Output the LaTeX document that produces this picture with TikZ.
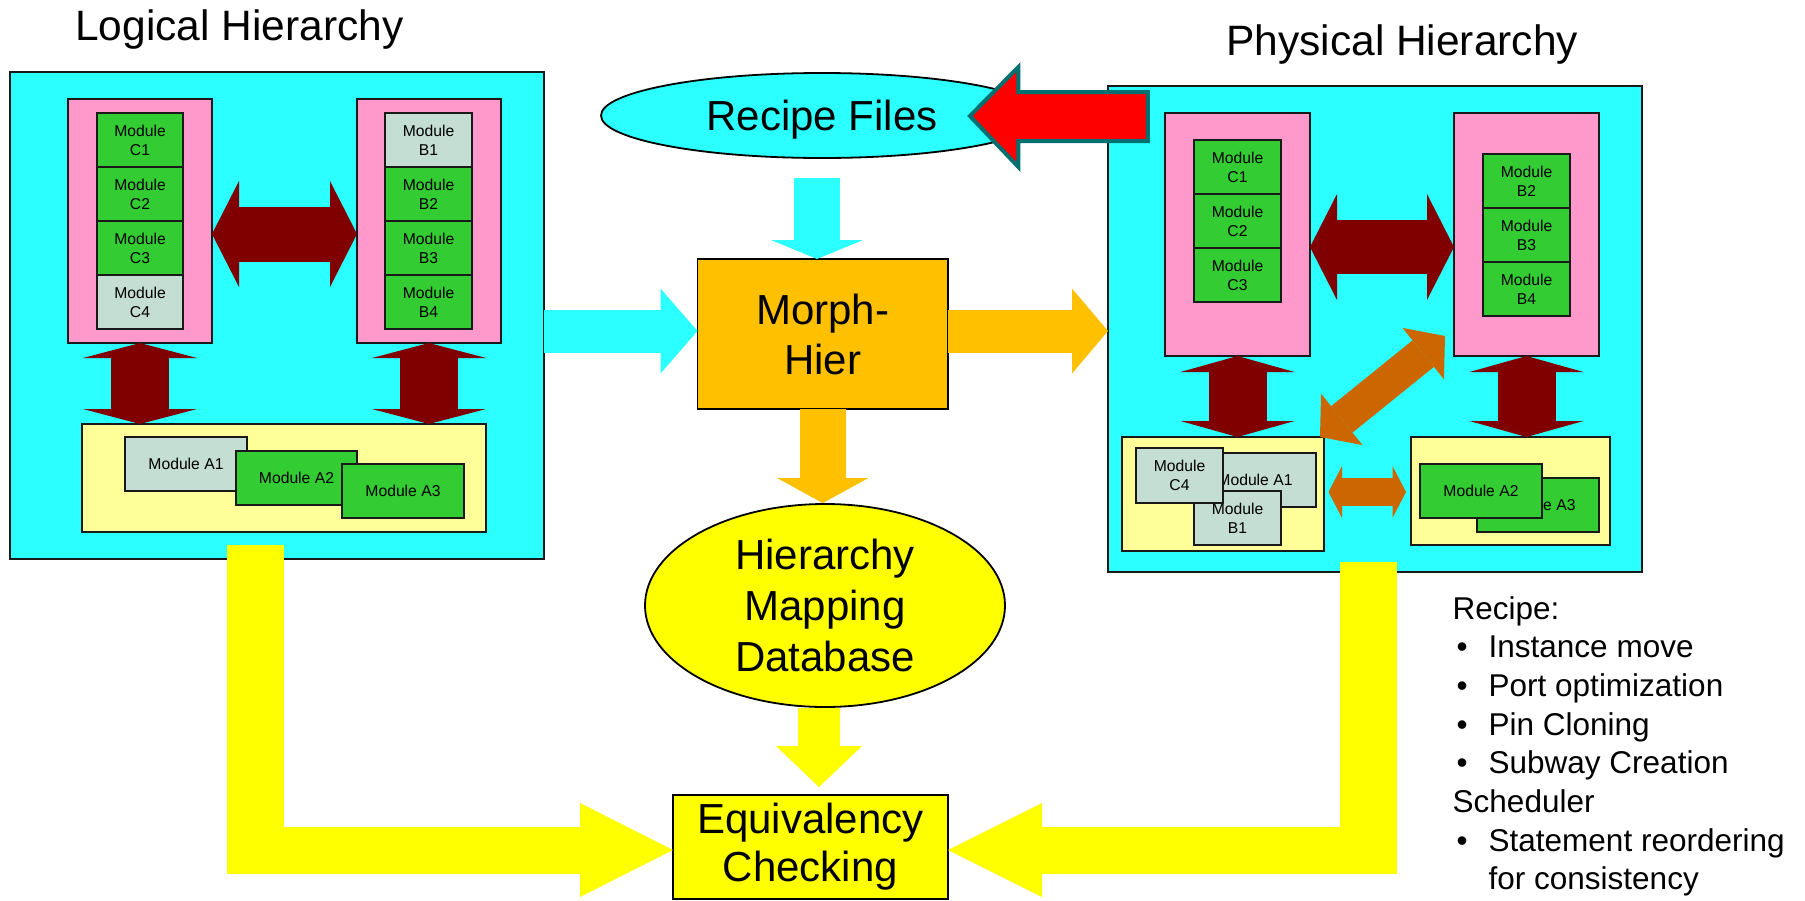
\documentclass[tikz,border=0pt]{standalone}
\usepackage{fontspec}
\setmainfont{Liberation Sans}
\usetikzlibrary{arrows.meta,shapes.geometric,calc}
\definecolor{cy}{RGB}{44,255,255}
\definecolor{pk}{RGB}{255,153,204}
\definecolor{gr}{RGB}{51,204,51}
\definecolor{gy}{RGB}{196,222,212}
\definecolor{ly}{RGB}{255,255,153}
\definecolor{dr}{RGB}{128,0,0}
\definecolor{og}{RGB}{255,192,0}
\definecolor{br}{RGB}{204,102,0}
\definecolor{yl}{RGB}{255,255,0}
\definecolor{tl}{RGB}{0,112,112}
\definecolor{bd}{RGB}{25,25,25}
\begin{document}
\begin{tikzpicture}[x=1pt,y=-1pt,
  box/.style={draw=bd, line width=1.6pt, inner sep=0pt, outer sep=0pt, anchor=north west},
  cell/.style={box, align=center, font=\fontsize{15.7}{19}\selectfont},
  barrow/.style n args={4}{draw=#1, line width=#2, -{Triangle[line width=0pt, width=#3, length=#4]}},
  bdarrow/.style n args={4}{draw=#1, line width=#2, {Triangle[line width=0pt, width=#3, length=#4]}-{Triangle[line width=0pt, width=#3, length=#4]}},
  title/.style={anchor=base west, inner sep=0pt, font=\fontsize{42.5}{50}\selectfont}
]
\useasboundingbox (0,0) rectangle (1805,900);

% titles
\node[title] (lt) at (75,40) {Logical Hierarchy};
\node[title] (pt) at (1226,55) {Physical Hierarchy};

% ---------- logical hierarchy ----------
\node[box, fill=cy, minimum width=534, minimum height=487] (lbox) at (10,72) {};
\node[box, fill=pk, minimum width=144, minimum height=244] (lpc) at (68,99) {};
\node[box, fill=pk, minimum width=144, minimum height=244] (lpb) at (357,99) {};
\node[cell, fill=gr, minimum width=86, minimum height=54] (lc1) at (97,113) {Module\\C1};
\node[cell, fill=gr, minimum width=86, minimum height=54] (lc2) at (97,167) {Module\\C2};
\node[cell, fill=gr, minimum width=86, minimum height=54] (lc3) at (97,221) {Module\\C3};
\node[cell, fill=gy, minimum width=86, minimum height=54] (lc4) at (97,275) {Module\\C4};
\node[cell, fill=gy, minimum width=87, minimum height=54] (lb1) at (385,113) {Module\\B1};
\node[cell, fill=gr, minimum width=87, minimum height=54] (lb2) at (385,167) {Module\\B2};
\node[cell, fill=gr, minimum width=87, minimum height=54] (lb3) at (385,221) {Module\\B3};
\node[cell, fill=gr, minimum width=87, minimum height=54] (lb4) at (385,275) {Module\\B4};
\node[box, fill=ly, minimum width=404, minimum height=108] (lyel) at (82,424) {};
\node[cell, fill=gy, minimum width=122, minimum height=54] (la1) at (125,437) {Module A1};
\node[cell, fill=gr, minimum width=121, minimum height=54] (la2) at (236,451) {Module A2};
\node[cell, fill=gr, minimum width=122, minimum height=54] (la3) at (342,464) {Module A3};
\draw[bdarrow={dr}{55pt}{106pt}{27pt}] ([yshift=-13]lpc.east) -- ([yshift=-13]lpb.west);
\draw[bdarrow={dr}{58pt}{114pt}{15pt}] (lpc.south) -- (lpc.south |- lyel.north);
\draw[bdarrow={dr}{58pt}{114pt}{15pt}] (lpb.south) -- (lpb.south |- lyel.north);

% ---------- physical hierarchy ----------
\node[box, fill=cy, minimum width=534, minimum height=486] (pbox) at (1108,86) {};
\node[box, fill=pk, minimum width=145, minimum height=243] (ppc) at (1165,113) {};
\node[box, fill=pk, minimum width=145, minimum height=243] (ppb) at (1454,113) {};
\node[cell, fill=gr, minimum width=87, minimum height=54] (pc1) at (1194,140) {Module\\C1};
\node[cell, fill=gr, minimum width=87, minimum height=54] (pc2) at (1194,194) {Module\\C2};
\node[cell, fill=gr, minimum width=87, minimum height=54] (pc3) at (1194,248) {Module\\C3};
\node[cell, fill=gr, minimum width=87, minimum height=54] (pb2) at (1483,154) {Module\\B2};
\node[cell, fill=gr, minimum width=87, minimum height=54] (pb3) at (1483,208) {Module\\B3};
\node[cell, fill=gr, minimum width=87, minimum height=54] (pb4) at (1483,262) {Module\\B4};
\node[box, fill=ly, minimum width=202, minimum height=114] (pyl) at (1122,437) {};
\node[box, fill=ly, minimum width=199, minimum height=108] (pyr) at (1411,437) {};
\node[cell, fill=gy, minimum width=122, minimum height=54] (pa1) at (1194,453) {Module A1};
\node[cell, fill=gy, minimum width=87, minimum height=54] (pb1) at (1194,491) {Module\\B1};
\node[cell, fill=gy, minimum width=87, minimum height=55] (pc4) at (1136,448) {Module\\C4};
\node[cell, fill=gr, minimum width=122, minimum height=54] (pa3) at (1477,478) {Module A3};
\node[cell, fill=gr, minimum width=122, minimum height=54] (pa2) at (1420,464) {Module A2};
\draw[bdarrow={dr}{54pt}{106pt}{27pt}] ([yshift=-12.5]ppc.east) -- ([yshift=-12.5]ppb.west);
\draw[bdarrow={dr}{58pt}{114pt}{16pt}] (ppc.south) -- (ppc.south |- pyl.north);
\draw[bdarrow={dr}{58pt}{114pt}{16pt}] (ppb.south) -- (ppb.south |- pyr.north);
\draw[bdarrow={br}{34pt}{66pt}{28pt}] ([xshift=-4]pyl.north east) -- ([xshift=-9,yshift=20]ppb.south west);
\draw[bdarrow={br}{28pt}{52pt}{13.5pt}] ($(pyl.east)+(4.5,-2)$) -- ($(pyr.west)+(-5,1)$);

% ---------- centre ----------
\node[ellipse, draw=black, line width=1.8pt, fill=cy, minimum width=442, minimum height=85, inner sep=0pt, text depth=0pt, font=\fontsize{42}{50}\selectfont] (rf) at (822,115.5) {Recipe Files};
\node[box, draw=black, fill=og, minimum width=250.5, minimum height=150, align=center, font=\fontsize{42}{50}\selectfont] (mh) at (697.5,259) {Morph-\\Hier};
\node[ellipse, draw=black, line width=1.8pt, fill=yl, minimum width=360, minimum height=203, inner sep=0pt, align=center, font=\fontsize{42}{51}\selectfont] (hmd) at (825,605.5) {Hierarchy\\Mapping\\Database};
\node[box, draw=black, fill=yl, minimum width=275, minimum height=104, align=center, font=\fontsize{42}{48}\selectfont] (eq) at (673,795) {Equivalency\\Checking};

% red arrow from physical hierarchy to recipe files
\coordinate (rt) at ($(rf.east)+(-74,0.5)$);
\draw[tl, line width=4pt, fill=red, line join=miter] (rt) -- ++(48.5,-49) -- ++(0,25) -- ++(129.5,0) -- ++(0,49) -- ++(-129.5,0) -- ++(0,26) -- cycle;

\draw[barrow={cy}{46pt}{92pt}{19pt}, shorten <=19pt] ([xshift=-5]rf.south) -- ([xshift=-5.75]mh.north);
\draw[barrow={cy}{43pt}{85pt}{37pt}] ($(lbox.east |- mh.west)+(0,-3)$) -- ($(mh.west)+(0,-3)$);
\draw[barrow={og}{43pt}{85pt}{36pt}] ($(mh.east)+(0,-3)$) -- ($(pbox.west |- mh.east)+(0,-3)$);
\draw[barrow={og}{45.5pt}{91pt}{25pt}] (mh.south) -- (mh.south |- hmd.north);
\coordinate (yd) at ($(hmd.south)+(-6,0)$);
\draw[barrow={yl}{42pt}{86pt}{41pt}, shorten >=8pt] (yd) -- (yd |- eq.north);

% yellow L arrows
\coordinate (lLt) at ($(lbox.south)+(-21.5,-14)$);
\coordinate (lLc) at ($(lLt |- eq.west)+(0,3)$);
\draw[yl, line width=57pt] (lLt) -- ($(lLc)+(0,23.5)$);
\draw[barrow={yl}{47pt}{94pt}{93pt}] ($(lLc)+(-28.5,0)$) -- ($(eq.west)+(0,3)$);
\coordinate (rLt) at ($(pbox.south)+(-6.5,-10)$);
\coordinate (rLc) at ($(rLt |- eq.east)+(0,3)$);
\draw[yl, line width=57pt] (rLt) -- ($(rLc)+(0,23.5)$);
\draw[barrow={yl}{47pt}{94pt}{94pt}] ($(rLc)+(28.5,0)$) -- ($(eq.east)+(0,3)$);

% recipe list
\node[anchor=base west, inner sep=0pt, font=\fontsize{31.5}{38.7}\selectfont] (rl) at (1452.5,619) {%
\begin{tabular}[t]{@{}l@{}l@{}}
\multicolumn{2}{@{}l}{Recipe:}\\
\makebox[36pt][l]{\hspace{4pt}•}&Instance move\\
\makebox[36pt][l]{\hspace{4pt}•}&Port optimization\\
\makebox[36pt][l]{\hspace{4pt}•}&Pin Cloning\\
\makebox[36pt][l]{\hspace{4pt}•}&Subway Creation\\
\multicolumn{2}{@{}l}{Scheduler}\\
\makebox[36pt][l]{\hspace{4pt}•}&Statement reordering\\
&for consistency
\end{tabular}};
\end{tikzpicture}
\end{document}
